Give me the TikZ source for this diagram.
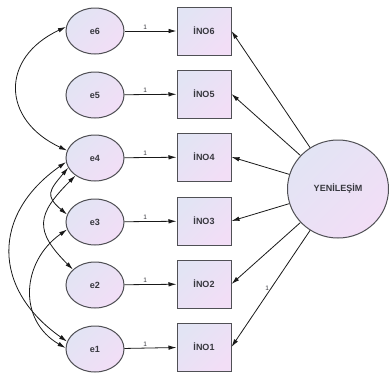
\documentclass[tikz,border=0pt]{standalone}
\usepackage{fontspec}
\setmainfont{Liberation Sans}
\usetikzlibrary{arrows.meta,shapes.geometric}
\definecolor{lavA}{RGB}{226,228,244}
\definecolor{lavB}{RGB}{242,222,246}
\definecolor{edgegray}{RGB}{80,80,85}
\definecolor{txt}{RGB}{55,55,62}
\begin{document}
\begin{tikzpicture}[x=1pt,y=-1pt,
  font=\fontsize{9}{10}\selectfont\bfseries,
  grad/.style={left color=lavA, right color=lavB, shading angle=45,
    draw=edgegray, line width=1pt, text=txt, inner sep=0pt},
  errnode/.style={grad, ellipse, minimum width=58, minimum height=46},
  obsnode/.style={grad, rectangle, minimum width=54, minimum height=48},
  latnode/.style={grad, ellipse, minimum width=101, minimum height=98},
  arr/.style={-{Latex[length=8pt,width=4.5pt]}, line width=0.8pt, black!90},
  cov/.style={{Latex[length=8pt,width=4.5pt]}-{Latex[length=8pt,width=4.5pt]}, line width=0.8pt, black!90},
  one/.style={font=\fontsize{6.5}{7}\selectfont, text=txt, inner sep=1.5pt}]
\useasboundingbox (0,0) rectangle (389,373);

% error terms
\node[errnode] (e6) at (95,31)  {e6};
\node[errnode] (e5) at (95,95)  {e5};
\node[errnode] (e4) at (95,158) {e4};
\node[errnode] (e3) at (95,222) {e3};
\node[errnode] (e2) at (95,285) {e2};
\node[errnode] (e1) at (95,349) {e1};

% observed indicators
\node[obsnode] (b6) at (204,31)  {İNO6};
\node[obsnode] (b5) at (204,94)  {İNO5};
\node[obsnode] (b4) at (204,157) {İNO4};
\node[obsnode] (b3) at (204,221) {İNO3};
\node[obsnode] (b2) at (204,284) {İNO2};
\node[obsnode] (b1) at (204,347) {İNO1};

% latent factor
\node[latnode] (Y) at (338,189) {YENİLEŞİM};

% error paths
\foreach \i in {1,...,6}
  \draw[arr] (e\i) -- node[one, above, pos=0.4] {1} (b\i);

% factor loadings
\foreach \i in {2,...,6}
  \draw[arr] (Y) -- (b\i.east);
\draw[arr] (Y) -- node[one, left, pos=0.5] {1} (b1.east);

% error covariances
\draw[cov] (e6.172) to[out=205,in=155,looseness=1.5] (e4.165);
\draw[cov] (e4.188) to[out=215,in=145,looseness=1.3] (e1.165);
\draw[cov] (e4.200) to[out=230,in=140,looseness=1.6] (e3.165);
\draw[cov] (e4.222) to[out=225,in=135,looseness=1.5] (e2.145);
\draw[cov] (e3.195) to[out=215,in=150,looseness=1.2] (e1.178);
\end{tikzpicture}
\end{document}
